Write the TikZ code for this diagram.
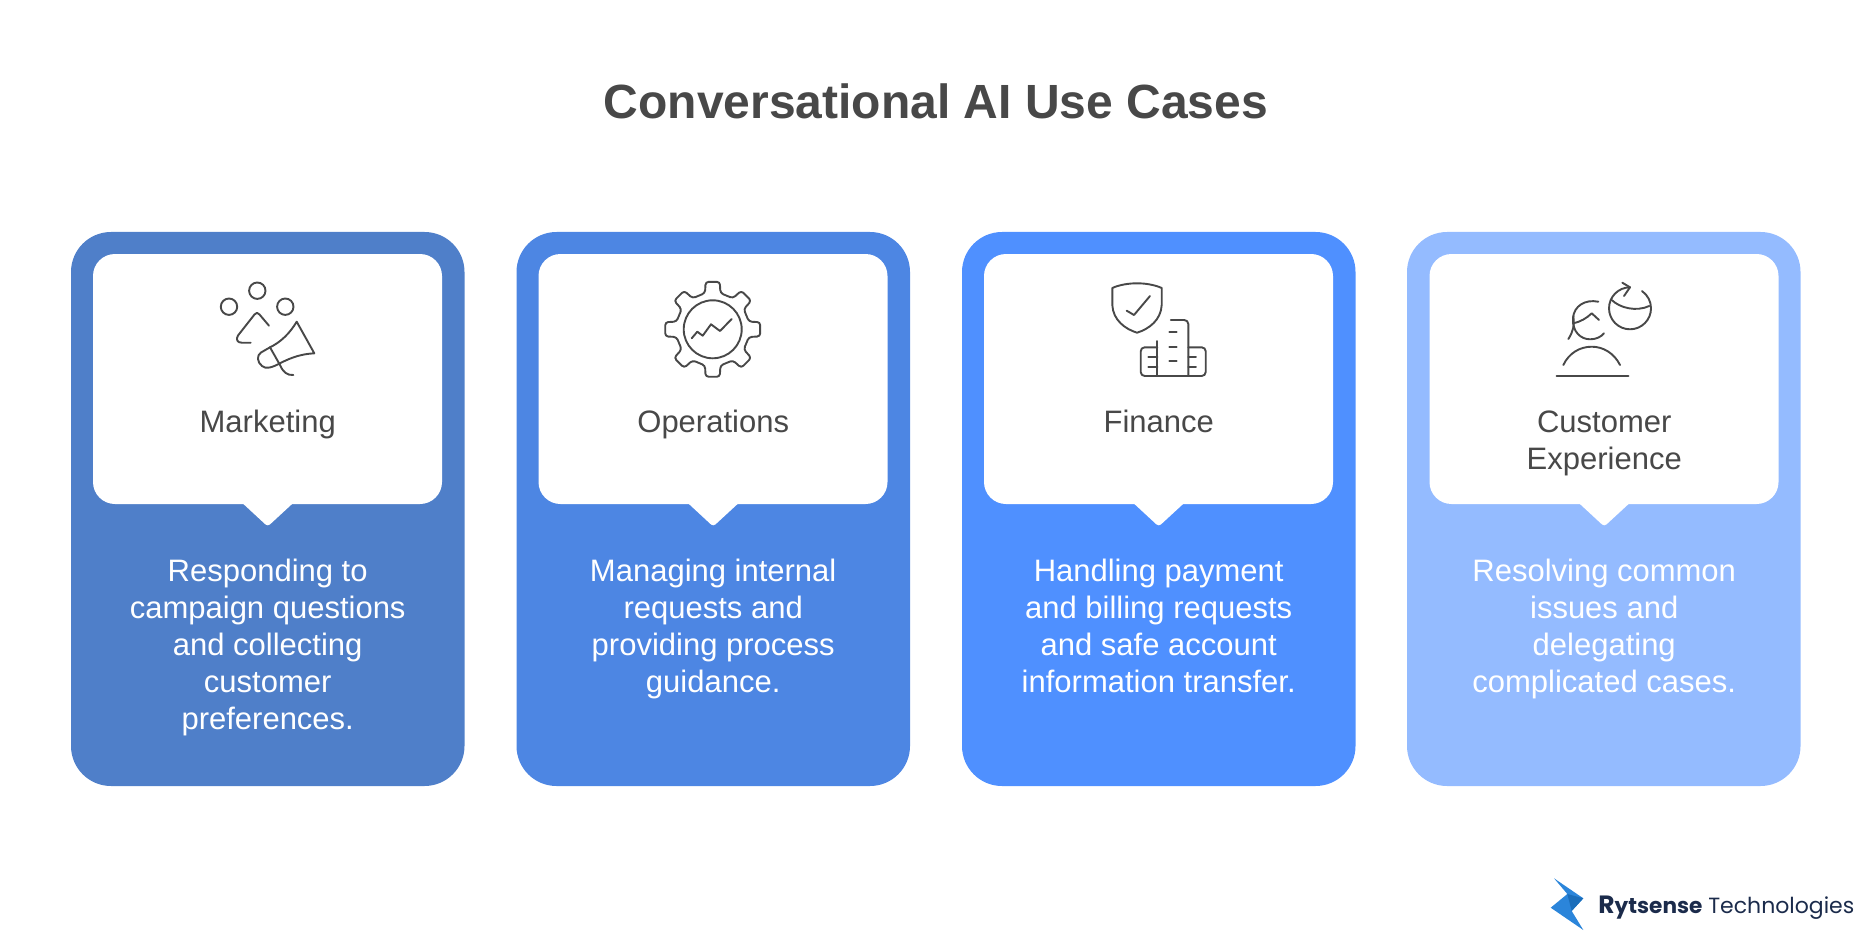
\documentclass[tikz,border=0pt]{standalone}
\usepackage{fontspec}
\setmainfont{Liberation Sans}
\newfontfamily\logofont{Poppins}

\definecolor{cardone}{HTML}{4F7FC9}
\definecolor{cardtwo}{HTML}{4D86E3}
\definecolor{cardthree}{HTML}{4F90FF}
\definecolor{cardfour}{HTML}{94BBFF}
\definecolor{inktext}{HTML}{484848}
\definecolor{logoink}{HTML}{1B2B4B}
\definecolor{logolight}{HTML}{2B85DA}
\definecolor{logodark}{HTML}{1A6DBA}

\tikzset{
    cardbox/.style={rounded corners=20pt},
    bubblebox/.style={fill=white,rounded corners=11pt},
    bubbletip/.style={fill=white,rounded corners=1.5pt},
    titlelabel/.style={font=\fontsize{24}{29}\selectfont\bfseries,text=inktext,inner sep=0pt},
    namelabel/.style={font=\fontsize{15.5}{18.5}\selectfont,text=inktext,align=center,inner sep=0pt},
    bodylabel/.style={font=\fontsize{15.5}{18.5}\selectfont,text=white,align=center,inner sep=0pt},
    iconline/.style={draw=inktext,line width=.95pt,line cap=round,line join=round},
}

\begin{document}
\begin{tikzpicture}[x=.5pt,y=-.5pt]
    \useasboundingbox (0,0) rectangle (1872,936);

    \node (title) at (936,119) [titlelabel,anchor=base] {Conversational AI Use Cases};

    %% cards
    \fill[cardone,cardbox] (71,232) rectangle (464.5,786);
    \fill[cardtwo,cardbox] (516.5,232) rectangle (910,786);
    \fill[cardthree,cardbox] (962,232) rectangle (1355.5,786);
    \fill[cardfour,cardbox] (1407,232) rectangle (1800.5,786);

    %% bubbles
    \fill[bubblebox] (93,254) rectangle (442,504);
    \fill[bubblebox] (538.5,254) rectangle (887.5,504);
    \fill[bubblebox] (984,254) rectangle (1333,504);
    \fill[bubblebox] (1429.5,254) rectangle (1778.5,504);

    %% bubble tips
    \fill[bubbletip] (238,499) -- (267.7,526.5) -- (297.5,499) -- cycle;
    \fill[bubbletip] (683.5,499) -- (713.2,526.5) -- (743,499) -- cycle;
    \fill[bubbletip] (1129,499) -- (1158.7,526.5) -- (1188.5,499) -- cycle;
    \fill[bubbletip] (1574.5,499) -- (1604.2,526.5) -- (1634,499) -- cycle;

    %% names
    \node (marketing) at (267.7,432) [namelabel,anchor=base] {Marketing};
    \node (operations) at (713.2,432) [namelabel,anchor=base] {Operations};
    \node (finance) at (1158.7,432) [namelabel,anchor=base] {Finance};
    \node (experience) at (1604.2,469) [namelabel,anchor=base] {Customer\\Experience};

    %% descriptions
    \node (marketingtext) at (267.7,559) [bodylabel,anchor=north] {Responding to\\campaign questions\\and collecting\\customer\\preferences.};
    \node (operationstext) at (713.2,559) [bodylabel,anchor=north] {Managing internal\\requests and\\providing process\\guidance.};
    \node (financetext) at (1158.7,559) [bodylabel,anchor=north] {Handling payment\\and billing requests\\and safe account\\information transfer.};
    \node (experiencetext) at (1604.2,559) [bodylabel,anchor=north] {Resolving common\\issues and\\delegating\\complicated cases.};

    %% marketing icon
    \draw[iconline] (257.3,290.7) circle (8.2);
    \draw[iconline] (229,306.7) circle (8.2);
    \draw[iconline] (285.3,306.7) circle (8.2);
    \draw[iconline] (269,325.7) -- (259.5,314.5) .. controls (257.5,312.3) and (256.5,312.3) .. (254.5,314.5) -- (238,335.5) .. controls (235.5,339.5) and (237.5,342.7) .. (241.7,342.7) -- (250.7,342.7);
    \draw[iconline] (296.7,321.7) -- (314.3,353.3) .. controls (302,354) and (292,357) .. (280,363.3) .. controls (272,367.5) and (266,369.5) .. (262,366) .. controls (257,362) and (256.5,355.5) .. (261,352.5) -- (270,347.3) .. controls (281,342) and (290,333) .. (296.7,321.7);
    \draw[iconline] (270,347.3) -- (280,365) .. controls (283,372) and (287,375.5) .. (293.3,375);

    %% operations icon
    \begin{scope}[shift={(712.7,329.3)}]
        \draw[iconline] (0,0) circle (29);
        \draw[iconline,rounded corners=1.5pt] (-12:37) -- (-8.5:48) -- (8.5:48) -- (12:37)
            \foreach \a in {45,90,...,315} { -- (\a-12:37) -- (\a-8.5:48) -- (\a+8.5:48) -- (\a+12:37) } -- cycle;
    \end{scope}
    \draw[iconline] (691.7,338.3) -- (697.3,331.7) -- (702.7,335.7) -- (711,324.3) -- (720,331) -- (731.7,319);

    %% finance icon
    \draw[iconline] (1137,283.3) .. controls (1128,283.3) and (1119,285) .. (1112.3,288) -- (1112.3,305) .. controls (1113,320) and (1125,329) .. (1137,332.7) .. controls (1149,329) and (1161,320) .. (1161.7,305) -- (1161.7,288) .. controls (1155,285) and (1146,283.3) .. (1137,283.3) -- cycle;
    \draw[iconline] (1126.7,310.7) -- (1134,315) -- (1150,296);
    \draw[iconline,rounded corners=2pt] (1170.7,320) -- (1188.3,320) -- (1188.3,376);
    \draw[iconline] (1157.3,341) -- (1157.3,376);
    \draw[iconline,rounded corners=2pt] (1157.3,347.3) -- (1140.7,347.3) -- (1140.7,376) -- (1205.7,376) -- (1205.7,347.3) -- (1188.3,347.3);
    \draw[iconline] (1169.3,332.3) -- (1176.7,332.3);
    \draw[iconline] (1169.3,346.7) -- (1176.7,346.7);
    \draw[iconline] (1169.3,361) -- (1176.7,361);
    \draw[iconline] (1148.3,357.3) -- (1157.3,357.3);
    \draw[iconline] (1148.3,366.7) -- (1157.3,366.7);
    \draw[iconline] (1188.3,357.3) -- (1196,357.3);
    \draw[iconline] (1188.3,366.7) -- (1196,366.7);

    %% experience icon
    \draw[iconline] (1598.3,301.7) .. controls (1585,299) and (1574,306) .. (1573,318) .. controls (1572,332) and (1581,339.3) .. (1590,339.3) .. controls (1596,339.3) and (1601,337) .. (1604,333.3);
    \draw[iconline] (1568.3,339) .. controls (1573,332) and (1574.5,326) .. (1573.3,316);
    \draw[iconline] (1573.3,323.3) .. controls (1580,322) and (1587,318) .. (1591.7,313.3) -- (1599,320);
    \draw[iconline] (1563.3,365) .. controls (1569,353) and (1580,346.7) .. (1591.7,346.7) .. controls (1603,346.7) and (1614,353) .. (1620,365);
    \draw[iconline,line width=1.2pt] (1556.7,376) -- (1628.3,376);
    \draw[iconline] (1630,287.3) arc[start angle=-90,delta angle=-325,radius=21];
    \draw[iconline] (1622.3,282.7) -- (1630,287.3) -- (1624,296);
    \draw[iconline] (1611.7,300) .. controls (1620,308) and (1636,312) .. (1649.3,306);

    %% logo
    \fill[logolight] (1554,878.3) -- (1583.3,898.3) -- (1571.7,911) -- (1583.3,930) -- (1550.7,907.7) -- (1567.3,894) -- cycle;
    \fill[logodark] (1567.3,894) -- (1583.3,898.3) -- (1571.7,911) -- cycle;
    \node (logotext) at (1598,913) [anchor=base west,inner sep=0pt,text=logoink,font=\logofont] {{\fontsize{12.5}{14}\selectfont\bfseries R}{\fontsize{10.8}{14}\selectfont\bfseries ytsense}{\fontsize{11}{14}\selectfont\ Technologies}};
\end{tikzpicture}
\end{document}
